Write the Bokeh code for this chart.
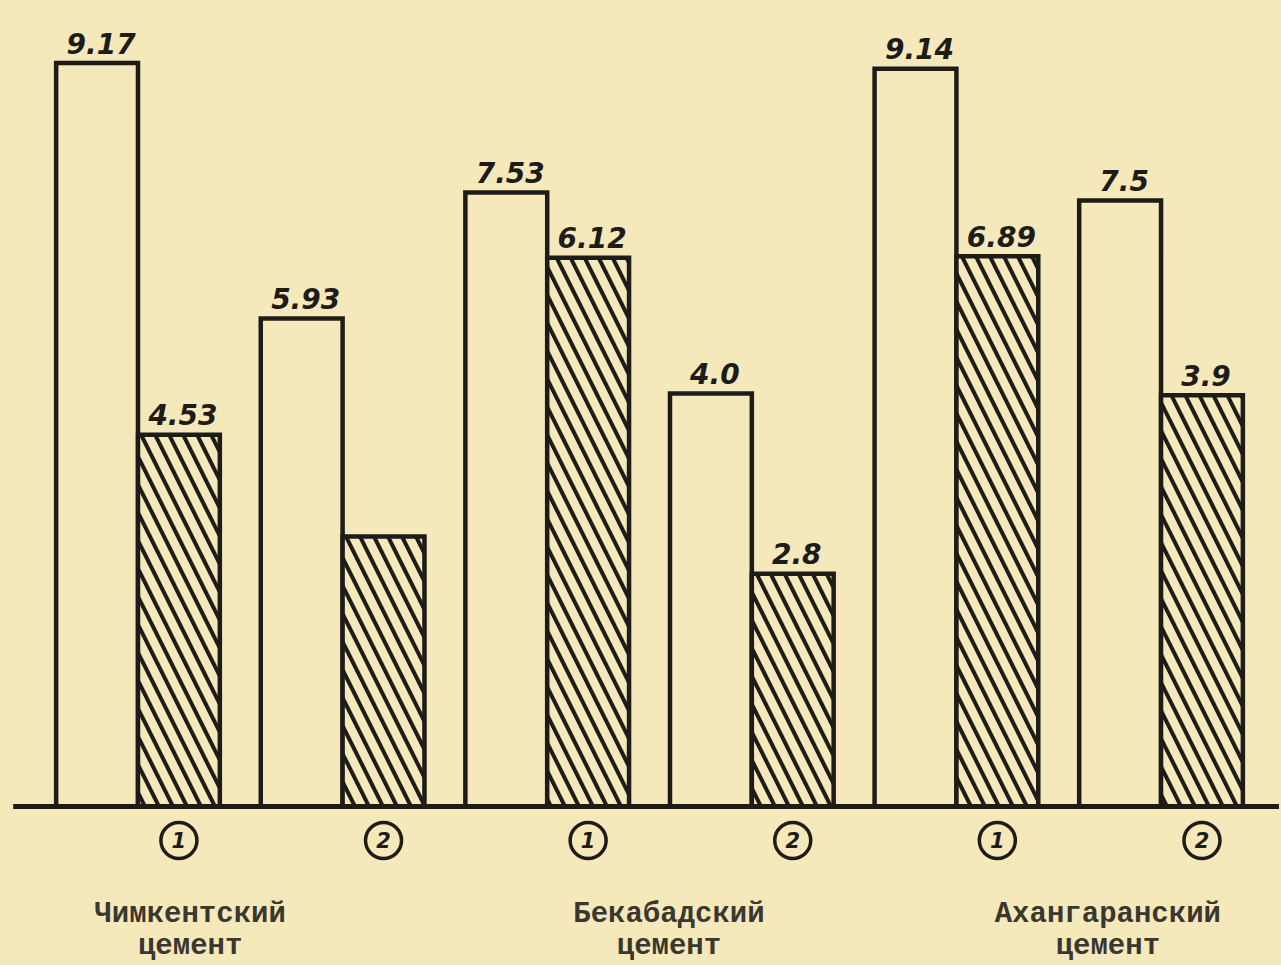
from bokeh.plotting import figure
from bokeh.models import Range1d, ColumnDataSource
from bokeh.embed import file_html
from bokeh.resources import INLINE
from bokeh.core.properties import value

# ---------------- data ----------------
plant_line1 = ["Чимкентский", "Бекабадский", "Ахангаранский"]
plant_line2 = ["цемент", "цемент", "цемент"]
pair_marks = ["1", "2", "1", "2", "1", "2"]
# open (white) bars: printed values and heights as drawn
open_labels = ["9.17", "5.93", "7.53", "4.0", "9.14", "7.5"]
open_heights = [9.20, 6.04, 7.60, 5.11, 9.13, 7.50]
# hatched bars: printed values and heights as drawn
hatched_labels = ["4.53", "", "6.12", "2.8", "6.89", "3.9"]
hatched_heights = [4.60, 3.34, 6.79, 2.88, 6.81, 5.09]

# ---------------- layout / style ----------------
BG = "#f5e8bb"
INK = "#1d1c18"
TEXT_INK = "#3a372e"
BAR_W = 0.40
PX_PER_UNIT = 80.8            # vertical pixels per value unit
LABEL_GAP = 20 / PX_PER_UNIT  # gap between bar top and its value
pairs = list(range(len(open_heights)))
open_x = [i - BAR_W / 2 for i in pairs]
hatch_x = [i + BAR_W / 2 for i in pairs]
group_x = [0.255, 2.595, 4.74]

W, H = 1279, 963
p = figure(width=W, height=H, output_backend="svg", toolbar_location=None,
           x_axis_type=None, y_axis_type=None,
           x_range=Range1d(-0.672, 5.579), y_range=Range1d(-1.943, 9.975),
           min_border=0, outline_line_color=None,
           background_fill_color=BG, border_fill_color=BG)
p.grid.visible = False

src_open = ColumnDataSource(dict(x=open_x, top=open_heights, label=open_labels,
                                 ly=[h + LABEL_GAP for h in open_heights]))
src_hatch = ColumnDataSource(dict(x=hatch_x, top=hatched_heights, label=hatched_labels,
                                  ly=[h + LABEL_GAP for h in hatched_heights]))

p.vbar(x="x", top="top", bottom=0, width=BAR_W, source=src_open,
       fill_alpha=0, line_color=INK, line_width=4.5, line_join="miter")
p.vbar(x="x", top="top", bottom=0, width=BAR_W, source=src_hatch,
       fill_color=BG, line_color=INK, line_width=4.5, line_join="miter",
       hatch_pattern="\\", hatch_color=INK, hatch_weight=4, hatch_scale=28)

# baseline
p.segment(x0=[-0.61], y0=[0], x1=[5.579], y1=[0], line_color=INK, line_width=5)

# value labels
for src in (src_open, src_hatch):
    p.text(x="x", y="ly", text="label", source=src, text_align="center",
           text_baseline="alphabetic", x_offset=4,
           text_font=value("DejaVu Sans"), text_font_style="bold italic",
           text_font_size="28px", text_color=INK)

# circled pair numbers under the hatched bars
circle_y = [-0.42] * len(hatch_x)
src_marks = ColumnDataSource(dict(x=hatch_x, y=circle_y, mark=pair_marks))
p.scatter(x="x", y="y", source=src_marks, marker="circle", size=36,
          fill_alpha=0, line_color=INK, line_width=3.5)
p.text(x="x", y="y", text="mark", source=src_marks, text_align="center",
       text_baseline="middle", text_font=value("DejaVu Sans"),
       text_font_style="bold italic", text_font_size="21px", text_color=INK)

# plant names
p.text(x=group_x, y=[-1.34] * 3, text=plant_line1, text_align="center",
       text_baseline="middle", text_font=value("Liberation Mono"),
       text_font_style="bold", text_font_size="29px", text_color=TEXT_INK)
p.text(x=group_x, y=[-1.73] * 3, text=plant_line2, text_align="center",
       text_baseline="middle", text_font=value("Liberation Mono"),
       text_font_style="bold", text_font_size="29px", text_color=TEXT_INK)

html = file_html(p, INLINE)
html = html.replace("<body>", f'<body style="background:{BG}">')
open("out.html", "w").write(html)
